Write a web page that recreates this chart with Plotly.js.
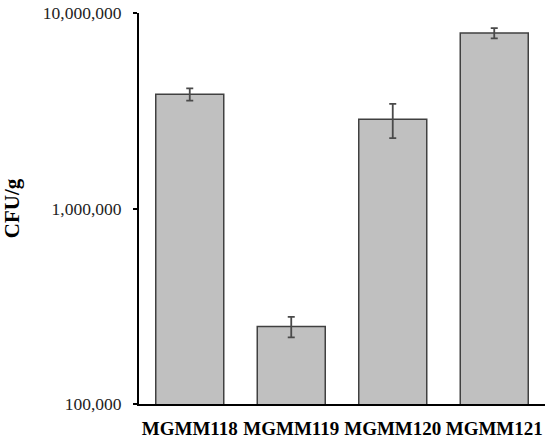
<!DOCTYPE html>
<html><head><meta charset="utf-8">
<script src="https://cdn.plot.ly/plotly-3.0.1.min.js"></script>
<style>html,body{margin:0;padding:0;background:#fff;}#chart{width:550px;height:442px;}</style>
</head><body><div id="chart"></div>
<script>
const categories = ["MGMM118", "MGMM119", "MGMM120", "MGMM121"];
const cfuValues = [3840000, 249000, 2860000, 7890000];
const cfuErrors = [280000, 30000, 570000, 480000];
const yTickVals = [100000, 1000000, 10000000];
const yTickText = ["100,000", "1,000,000", "10,000,000"];

const trace = {
  type: "bar",
  x: categories,
  y: cfuValues,
  error_y: {type: "data", array: cfuErrors, visible: true, color: "#4a4a4a", thickness: 1.8, width: 3.5},
  marker: {color: "#c0c0c0", line: {color: "#404040", width: 1.5}},
  hoverinfo: "none"
};

const layout = {
  width: 550, height: 442,
  margin: {l: 139, r: 5, t: 13, b: 38},
  paper_bgcolor: "#fff", plot_bgcolor: "#fff",
  bargap: 0.33,
  showlegend: false,
  font: {family: "Liberation Serif", color: "#000"},
  xaxis: {
    showline: true, linecolor: "#000", linewidth: 2, ticks: "",
    tickfont: {family: "Liberation Serif", size: 19, weight: "bold", color: "#000"},
    showgrid: false, zeroline: false, ticklabelstandoff: 6
  },
  yaxis: {
    type: "log", range: [5, 7], autorange: false,
    showline: true, linecolor: "#000", linewidth: 2,
    ticks: "outside", ticklen: 4, tickwidth: 2, tickcolor: "#000",
    tickvals: yTickVals, ticktext: yTickText,
    tickfont: {family: "Liberation Serif", size: 17.5, color: "#222"},
    showgrid: false, zeroline: false, ticklabelstandoff: 8,
    title: {text: "<b>CFU/g</b>", font: {family: "Liberation Serif", size: 21, color: "#000"}, standoff: 18}
  }
};

Plotly.newPlot("chart", [trace], layout, {displayModeBar: false, staticPlot: true});
</script>
</body></html>
